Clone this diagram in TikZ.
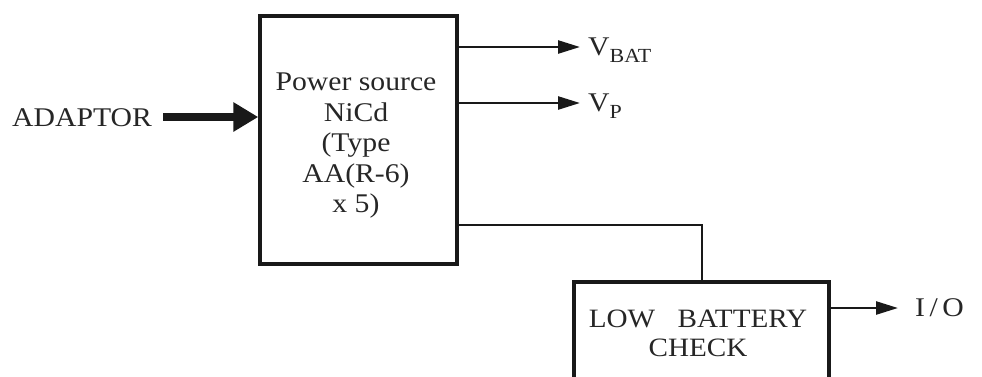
\documentclass[tikz,border=0pt]{standalone}
\usepackage{fontspec}
\setmainfont{Liberation Serif}[FakeStretch=1.1]
\usetikzlibrary{arrows.meta}
\newcommand{\subtxt}[1]{\raisebox{-7pt}{\fontsize{20}{20}\selectfont #1}}
\begin{document}
\begin{tikzpicture}[x=1pt,y=-1pt,
  blk/.style={draw=black!90,line width=3.5pt,inner sep=0pt},
  conn/.style={draw=black!90,line width=2.5pt},
  sig/.style={conn,-{Triangle[length=22pt,width=13pt]}},
  lbl/.style={inner sep=0pt,text=black!85,font=\fontsize{27}{30.5}\selectfont}]
\useasboundingbox (0,0) rectangle (982,376);
\clip (0,0) rectangle (982,376);
% power source box
\node[blk,minimum width=197pt,minimum height=248pt] (ps) at (358.5,140) {};
\node[lbl,align=center] (pst) at (356,146) {Power source\\NiCd\\(Type\\AA(R-6)\\x 5)};
% low battery box
\node[blk,minimum width=255pt,minimum height=130pt,anchor=north west] (lb) at (572,280) {};
\node[lbl,align=center,font=\fontsize{26.5}{29}\selectfont] (lbt) at (698,333) {LOW\hspace{0.85em}BATTERY\\CHECK};
% labels
\node[lbl,anchor=base west] (ad) at (12,126) {ADAPTOR};
\node[lbl,anchor=base west] (vb) at (588,55) {V\subtxt{BAT}};
\node[lbl,anchor=base west] (vp) at (588,111) {V\subtxt{P}};
\node[lbl,anchor=base west] (io) at (915,316) {I\,/\,O};
% coordinates
\coordinate (adS) at (163,117);
\coordinate (vbE) at (580,47);
\coordinate (vpE) at (580,103);
\coordinate (ioE) at (898,308);
\coordinate (bend) at (702,225);
% connectors
\draw[draw=black!90,line width=8pt,-{Triangle[length=25pt,width=28pt]}] (adS) -- (adS -| ps.west);
\draw[sig] (ps.east |- vbE) -- (vbE);
\draw[sig] (ps.east |- vpE) -- (vpE);
\draw[conn] (ps.east |- bend) -- (bend) -- (bend |- lb.north);
\draw[sig] (lb.east |- ioE) -- (ioE);
\end{tikzpicture}
\end{document}
